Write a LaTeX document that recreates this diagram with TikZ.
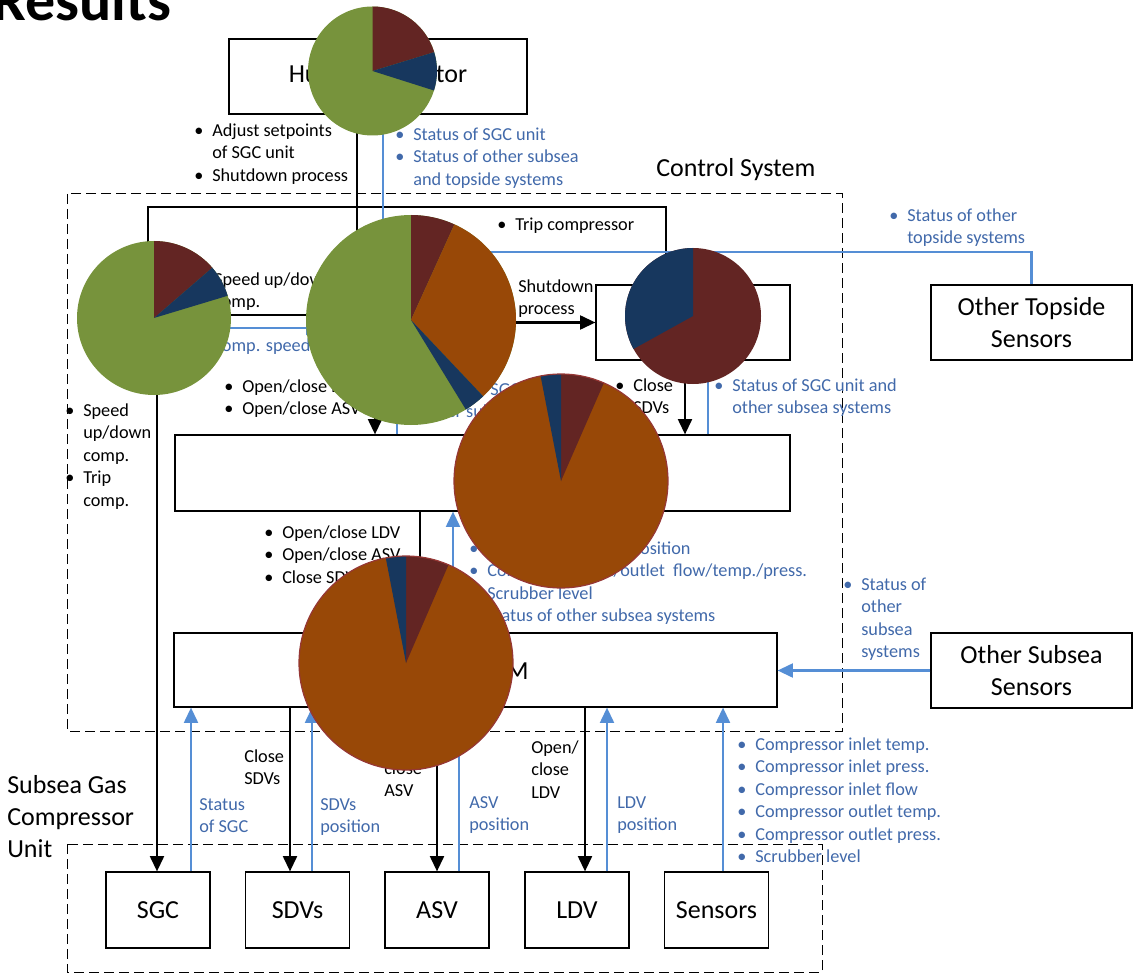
\documentclass[tikz,border=0pt]{standalone}
\usepackage{fontspec}
\setmainfont{Carlito}
\usetikzlibrary{arrows.meta}

\definecolor{lineblue}{RGB}{85,142,213}
\definecolor{textblue}{RGB}{65,105,170}
\definecolor{piegreen}{RGB}{119,147,60}
\definecolor{piered}{RGB}{99,37,35}
\definecolor{pienavy}{RGB}{23,55,94}
\definecolor{pieorange}{RGB}{152,72,7}
\definecolor{pieedge}{RGB}{150,55,53}

% bullet with a hanging indent, and stacked lines whose baseline is the first line
\newcommand{\lbul}{\makebox[13.5pt][l]{\textbullet}}
\newcommand{\lind}{\hspace*{13.5pt}}
\newcommand{\txtrows}[1]{\begin{tabular}[t]{@{}l@{}}#1\end{tabular}}
% one filled sector of a pie, drawn around the local origin
\newcommand{\wedgefill}[4]{\fill[#1] (0,0) -- (#2:#4) arc[start angle=#2, end angle=#3, radius=#4] -- cycle;}

\begin{document}
\begin{tikzpicture}[x=0.75pt, y=-0.75pt,
  box/.style={draw, line width=0.9pt, inner sep=0, align=center,
    font=\fontsize{19.5}{24}\selectfont},
  big/.style={font=\fontsize{19.5}{24}\selectfont, inner sep=0, anchor=base west},
  txt/.style={font=\fontsize{13.7}{16.8}\selectfont, inner sep=0, anchor=base west},
  btxt/.style={txt, text=textblue},
  blk/.style={line width=1.6pt, -{Triangle[length=11.5pt,width=10.5pt]}},
  blu/.style={blk, draw=lineblue},
  frame/.style={draw, line width=0.75pt, dash pattern=on 7.5pt off 3.75pt}]

\useasboundingbox (0,0) rectangle (1134,973);

% heading
\node[font=\fontsize{45}{50}\selectfont\bfseries, inner sep=0, anchor=base west] (title) at (-8,21) {Results};

% dashed system boundaries
\draw[frame] (67,194) rectangle (842,731);
\draw[frame] (67,844) rectangle (822,972);
\node[big] (ctrllabel) at (656,177) {Control System};
\node[big] (unitlabel) at (7,793) {\txtrows{Subsea Gas\\Compressor\\Unit}};

% blocks
\node[box, minimum width=223.5pt, minimum height=56.25pt] (ho) at (378,76.5) {Human Operator};
\node[box, minimum width=150.75pt, minimum height=56.25pt] (ots) at (1031.5,322.5) {Other Topside\\Sensors};
\node[box, minimum width=150.75pt, minimum height=56.25pt] (oss) at (1031.5,670.5) {Other Subsea\\Sensors};
\node[box, minimum width=145.5pt, minimum height=56.25pt] (esd) at (693,322.5) {};
\node[box, minimum width=135pt, minimum height=53.25pt] (pcs) at (412,322.5) {};
\node[box, minimum width=79.5pt, minimum height=58.5pt] (vsd) at (155,322.5) {};
\node[box, minimum width=461.25pt, minimum height=57pt] (mcs) at (482.5,473) {};
\node[box, minimum width=452.25pt, minimum height=55.5pt] (scm) at (475.5,670) {};
\node[big, anchor=base east] (scmname) at (529,679) {SCM};
\node[box, minimum width=78pt, minimum height=57pt] (sgc) at (158,910) {SGC};
\node[box, minimum width=78pt, minimum height=57pt] (sdvs) at (297.5,910) {SDVs};
\node[box, minimum width=78pt, minimum height=57pt] (asv) at (437,910) {ASV};
\node[box, minimum width=78pt, minimum height=57pt] (ldv) at (577,910) {LDV};
\node[box, minimum width=78pt, minimum height=57pt] (sens) at (716.5,910) {Sensors};

% commands
\draw[blk] ([xshift=-15.75pt]ho.south) -- ([xshift=-41.25pt]pcs.north);
\draw[blk] ([xshift=-20.25pt]esd.north) -- ++(0,-77) -| ([xshift=-5.25pt]vsd.north);
\draw[blk] ([yshift=5.625pt]pcs.west) -- ([yshift=5.625pt]vsd.east);
\draw[blk] ([xshift=1.5pt]vsd.south) -- ([xshift=-0.75pt]sgc.north);
\draw[blk] (pcs.east) -- (esd.west);
\draw[blk] ([xshift=-6pt]esd.south) -- ([xshift=151.875pt]mcs.north);
\draw[blk] ([xshift=-27.75pt]pcs.south) -- ([xshift=-80.625pt]mcs.north);
\draw[blk] ([xshift=-46.875pt]mcs.south) -- ([xshift=-41.625pt]scm.north);
\draw[blk] ([xshift=-139.125pt]scm.south) -- ([xshift=-5.625pt]sdvs.north);
\draw[blk] ([xshift=-28.875pt]scm.south) -- (asv.north);
\draw[blk] ([xshift=82.125pt]scm.south) -- ([xshift=6pt]ldv.north);

% measurements and status
\draw[blu] ([xshift=-21.75pt]pcs.north) -- ([xshift=3.75pt]ho.south);
\draw[blu] (ots.north) -- ++(0,-32) -| ([xshift=43.5pt]pcs.north);
\draw[blu] ([yshift=-4.125pt]vsd.east) -- ([yshift=-4.125pt]pcs.west);
\draw[blu] ([xshift=-64.125pt]mcs.north) -- ([xshift=-11.25pt]pcs.south);
\draw[blu] ([xshift=169.125pt]mcs.north) -- ([xshift=11.25pt]esd.south);
\draw[blu] ([xshift=-16.875pt]scm.north) -- ([xshift=-22.125pt]mcs.south);
\draw[blu] (oss.west) -- (oss.west -| scm.east);
\draw[blu] ([xshift=24.75pt]sgc.north) -- ([xshift=-213.375pt]scm.south);
\draw[blu] ([xshift=10.875pt]sdvs.north) -- ([xshift=-122.625pt]scm.south);
\draw[blu] ([xshift=16.5pt]asv.north) -- ([xshift=-12.375pt]scm.south);
\draw[blu] ([xshift=22.5pt]ldv.north) -- ([xshift=98.625pt]scm.south);
\draw[blu] ([xshift=4.875pt]sens.north) -- ([xshift=185.625pt]scm.south);

% command labels
\node[txt] (adjust) at (194,136.5) {\txtrows{\lbul Adjust setpoints\\\lind of SGC unit\\\lbul Shutdown process}};
\node[txt] (trip) at (497,230.5) {\lbul Trip compressor};
\node[txt] (speedvsd) at (196,285.5) {\txtrows{\lbul Speed up/down\\\lind comp.}};
\node[txt] (shutdown) at (518,292.5) {\txtrows{Shutdown\\process}};
\node[txt] (openpcs) at (224,392.5) {\txtrows{\lbul Open/close LDV\\\lbul Open/close ASV}};
\node[txt] (closeesd) at (615,391.5) {\txtrows{\lbul Close\\\lind SDVs}};
\node[txt] (speedsgc) at (65,416.5) {\txtrows{\lbul Speed\\\lind up/down\\\lind comp.\\\lbul Trip\\\lind comp.}};
\node[txt] (openmcs) at (264,538.5) {\txtrows{\lbul Open/close LDV\\\lbul Open/close ASV\\\lbul Close SDVs}};
\node[txt] (closesdv) at (244,762.5) {\txtrows{Close\\SDVs}};
\node[txt] (openasv) at (384,751.7) {\txtrows{Open/\\close\\ASV}};
\node[txt] (openldv) at (531,753.5) {\txtrows{Open/\\close\\LDV}};

% status labels
\node[btxt] (sgcstatus) at (395,140.5) {\txtrows{\lbul Status of SGC unit\\\lbul Status of other subsea\\\lind and topside systems}};
\node[btxt] (topstatus) at (889,221.5) {\txtrows{\lbul Status of other\\\lind topside systems}};
\node[btxt] (speedfb) at (194,351.5) {\lbul Comp. speed};
\node[btxt] (mcsstatus) at (403,395.5) {\txtrows{\lbul Status of SGC unit and\\\lind other subsea systems}};
\node[btxt] (esdstatus) at (714,391.5) {\txtrows{\lbul Status of SGC unit and\\\lind other subsea systems}};
\node[btxt] (scmstatus) at (469,554.5) {\txtrows{\lbul SDVs, ASV and LDV position\\\lbul Compressor inlet/outlet\ \ flow/temp./press.\\\lbul Scrubber level\\\lbul Status of other subsea systems}};
\node[btxt] (subseastatus) at (843,590.5) {\txtrows{\lbul Status of\\\lind other\\\lind subsea\\\lind systems}};
\node[btxt] (sgcfb) at (199,810.5) {\txtrows{Status\\of SGC}};
\node[btxt] (sdvfb) at (320,810.5) {\txtrows{SDVs\\position}};
\node[btxt] (asvfb) at (469,808.5) {\txtrows{ASV\\position}};
\node[btxt] (ldvfb) at (617,808.5) {\txtrows{LDV\\position}};
\node[btxt] (sensfb) at (737,750.5) {\txtrows{\lbul Compressor inlet temp.\\\lbul Compressor inlet press.\\\lbul Compressor inlet flow\\\lbul Compressor outlet temp.\\\lbul Compressor outlet press.\\\lbul Scrubber level}};

% pie charts laid over the diagram
\begin{scope}[shift={(372.5,71)}, yscale=-1]
  \fill[piegreen] (0,0) circle[radius=64.5];
  \wedgefill{piered}{90}{17}{64.5}
  \wedgefill{pienavy}{17}{-17.6}{64.5}
\end{scope}
\begin{scope}[shift={(154,318)}, yscale=-1]
  \fill[piegreen] (0,0) circle[radius=77];
  \wedgefill{piered}{90}{40.8}{77}
  \wedgefill{pienavy}{40.8}{16.8}{77}
\end{scope}
\begin{scope}[shift={(411,320)}, yscale=-1]
  \fill[piegreen] (0,0) circle[radius=105];
  \wedgefill{piered}{90}{65.6}{105}
  \wedgefill{pieorange}{65.6}{-46.6}{105}
  \wedgefill{pienavy}{-46.6}{-58.5}{105}
\end{scope}
\begin{scope}[shift={(693,316)}, yscale=-1]
  \fill[piered] (0,0) circle[radius=68];
  \wedgefill{pienavy}{90}{209}{68}
\end{scope}
\begin{scope}[shift={(561,481)}, yscale=-1]
  \fill[pieorange] (0,0) circle[radius=107];
  \wedgefill{piered}{90}{66.4}{107}
  \wedgefill{pienavy}{90}{101}{107}
  \draw[pieedge, line width=0.9pt] (0,0) circle[radius=107];
\end{scope}
\begin{scope}[shift={(406,663)}, yscale=-1]
  \fill[pieorange] (0,0) circle[radius=107];
  \wedgefill{piered}{90}{66.6}{107}
  \wedgefill{pienavy}{90}{100.9}{107}
  \draw[pieedge, line width=0.9pt] (0,0) circle[radius=107];
\end{scope}

\end{tikzpicture}
\end{document}
